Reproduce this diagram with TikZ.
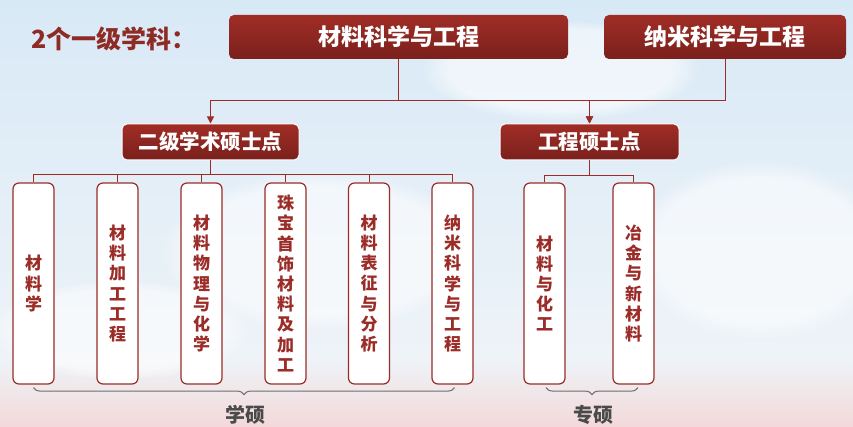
\documentclass[tikz,border=0pt]{standalone}
\usepackage{fontspec}
\newfontfamily\cjk{Noto Sans CJK SC}
\usetikzlibrary{arrows.meta,decorations.pathreplacing,fadings}
\definecolor{dred}{HTML}{8E2B25}
\definecolor{btop}{HTML}{A02D26}
\definecolor{bbot}{HTML}{7A201C}
\definecolor{lred}{HTML}{9B2C27}
\definecolor{sky}{HTML}{D8E9F6}
\definecolor{mist}{HTML}{EEF3F8}
\definecolor{pinkb}{HTML}{F3D9D9}
\definecolor{graytxt}{HTML}{4A4A4A}
\tikzset{
  redbox/.style={rounded corners=5pt, top color=btop, bottom color=bbot, text=white, inner sep=0pt, font=\cjk\bfseries},
  topbox/.style={redbox, minimum height=44pt, font=\cjk\bfseries\fontsize{23}{25}\selectfont},
  midbox/.style={redbox, draw=white, line width=1pt, minimum height=36pt, font=\cjk\bfseries\fontsize{20.5}{22}\selectfont},
  leaf/.style={draw=lred, line width=1.2pt, fill=white, rounded corners=6pt, minimum width=41pt, minimum height=201pt, inner sep=0pt, align=center, text=lred, font=\cjk\bfseries\fontsize{17}{20.2}\selectfont},
  conn/.style={draw=lred, line width=1pt},
  arr/.style={conn, -{Triangle[length=7pt,width=7pt]}},
  bracepath/.style={draw=graytxt!80, line width=1pt, decorate, decoration={brace, mirror, amplitude=7pt}},
  bracelabel/.style={text=graytxt, font=\cjk\bfseries\fontsize{20}{22}\selectfont, inner sep=0pt},
  cloud/.style={fill=white, opacity=0.55, path fading=circle with fuzzy edge 20 percent}
}
\begin{document}
\begin{tikzpicture}[x=1pt,y=-1pt]
\useasboundingbox (0,0) rectangle (853,427);
\shade[top color=sky, bottom color=mist] (0,0) rectangle (853,360);
\shade[top color=mist, bottom color=pinkb] (0,360) rectangle (853,427);
% soft clouds
\fill[cloud] (320,250) ellipse (160 and 80);
\fill[cloud] (760,250) ellipse (130 and 90);
\fill[cloud] (560,70) ellipse (140 and 50);
\fill[cloud] (120,330) ellipse (130 and 50);

\node[anchor=west, text=dred, font=\cjk\bfseries\fontsize{25}{27}\selectfont, inner sep=0pt] (title) at (31,39) {2个一级学科：};

\node[topbox, minimum width=339pt] (top1) at (398.5,37) {材料科学与工程};
\node[topbox, minimum width=242pt] (top2) at (725,37) {纳米科学与工程};

\node[midbox, minimum width=177pt] (mid1) at (210.5,142) {二级学术硕士点};
\node[midbox, minimum width=179pt] (mid2) at (589.5,142) {工程硕士点};

\node[leaf] (l1) at (33.5,283.5) {材\\料\\学};
\node[leaf] (l2) at (117.5,283.5) {材\\料\\加\\工\\工\\程};
\node[leaf] (l3) at (201.5,283.5) {材\\料\\物\\理\\与\\化\\学};
\node[leaf] (l4) at (285.5,283.5) {珠\\宝\\首\\饰\\材\\料\\及\\加\\工};
\node[leaf] (l5) at (369,283.5) {材\\料\\表\\征\\与\\分\\析};
\node[leaf] (l6) at (452.5,283.5) {纳\\米\\科\\学\\与\\工\\程};
\node[leaf] (l7) at (544.5,283.5) {材\\料\\与\\化\\工};
\node[leaf] (l8) at (633.5,283.5) {冶\\金\\与\\新\\材\\料};

\draw[arr] (top1.south) -- ++(0,41) -| (mid1.north);
\draw[arr] (top1.south) -- ++(0,41) -| (mid2.north);
\draw[arr] (top2.south) -- ++(0,41) -| (mid2.north);

\foreach \i in {1,...,6}{\draw[conn] (mid1.south) -- ++(0,14) -| (l\i.north);}
\foreach \i in {7,8}{\draw[conn] (mid2.south) -- ++(0,15) -| (l\i.north);}

\coordinate (b1s) at ([yshift=-3pt]l1.south);
\coordinate (b1e) at ([yshift=-3pt,xshift=2pt]l6.south);
\draw[bracepath] (b1s) -- (b1e);
\coordinate (b2s) at ([yshift=-3pt,xshift=1.5pt]l7.south);
\coordinate (b2e) at ([yshift=-3pt,xshift=4.5pt]l8.south);
\draw[bracepath] (b2s) -- (b2e);
\node[bracelabel] (xs) at (245,415) {学硕};
\node[bracelabel] (zs) at (593,415) {专硕};
\end{tikzpicture}
\end{document}
